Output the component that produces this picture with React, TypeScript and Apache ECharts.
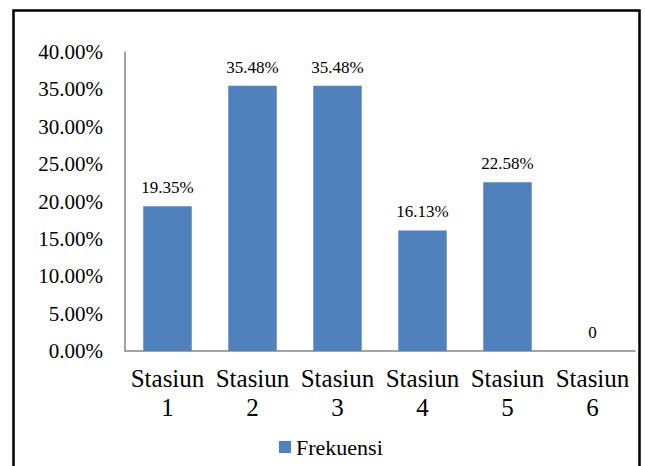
import React, { useEffect, useRef } from "react";
import * as echarts from "echarts";

const categories = ["Stasiun\n1", "Stasiun\n2", "Stasiun\n3", "Stasiun\n4", "Stasiun\n5", "Stasiun\n6"];
const frekuensi = [19.35, 35.48, 35.48, 16.13, 22.58, 0];
const seriesName = "Frekuensi";

const FONT = "'Liberation Serif', serif";

export default function App() {
  const ref = useRef<HTMLDivElement>(null);
  useEffect(() => {
    if (!ref.current) return;
    const chart = echarts.init(ref.current, undefined, { renderer: "svg" });
    chart.setOption({
      animation: false,
      backgroundColor: "#fff",
      textStyle: { fontFamily: FONT, color: "#000" },
      graphic: [
        {
          type: "rect",
          shape: { x: 13.5, y: 10.5, width: 626, height: 480 },
          style: { fill: "none", stroke: "#000", lineWidth: 2.5 },
          silent: true,
        },
      ],
      grid: { left: 125, right: 10, top: 52, bottom: 115, containLabel: false },
      legend: {
        data: [seriesName],
        left: 279,
        top: 436,
        padding: 0,
        icon: "rect",
        itemWidth: 12,
        itemHeight: 12,
        itemGap: 5,
        textStyle: { fontFamily: FONT, fontSize: 22, color: "#000" },
      },
      xAxis: {
        type: "category",
        data: categories,
        axisLine: { lineStyle: { color: "#868686", width: 1.5 } },
        axisTick: { show: false },
        axisLabel: {
          fontFamily: FONT,
          fontSize: 25,
          lineHeight: 29,
          color: "#000",
          margin: 13,
          interval: 0,
        },
      },
      yAxis: {
        type: "value",
        min: 0,
        max: 40,
        interval: 5,
        splitLine: { show: false },
        axisLine: { show: true, lineStyle: { color: "#868686", width: 1.5 } },
        axisTick: { show: false },
        axisLabel: {
          fontFamily: FONT,
          fontSize: 21,
          color: "#000",
          margin: 22,
          formatter: (v: number) => v.toFixed(2) + "%",
        },
      },
      series: [
        {
          name: seriesName,
          type: "bar",
          data: frekuensi,
          barWidth: "57%",
          itemStyle: { color: "#4F81BD" },
          label: {
            show: true,
            position: "top",
            distance: 10,
            fontFamily: FONT,
            fontSize: 17,
            color: "#000",
            formatter: (p: any) => (p.value === 0 ? "0" : Number(p.value).toFixed(2) + "%"),
          },
        },
      ],
    });
    return () => chart.dispose();
  }, []);
  return (
    <div
      ref={ref}
      style={{ position: "fixed", left: 0, top: 0, width: 645, height: 466 }}
    />
  );
}
